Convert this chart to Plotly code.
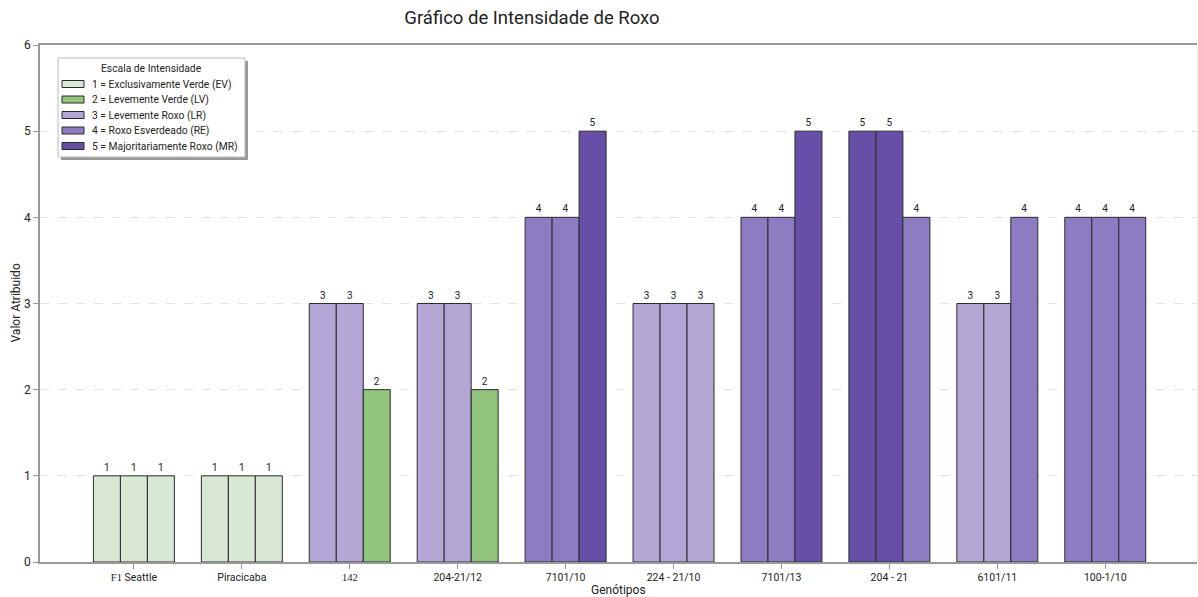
import plotly.graph_objects as go

categories = ["<span style='font-family:Liberation Serif'>F1</span> Seattle", "Piracicaba",
              "<span style='font-family:Liberation Serif'>142</span>", "204-21/12", "7101/10",
              "224 - 21/10", "7101/13", "204 - 21", "6101/11", "100-1/10"]
serie_a = [1, 1, 3, 3, 4, 3, 4, 5, 3, 4]
serie_b = [1, 1, 3, 3, 4, 3, 4, 5, 3, 4]
serie_c = [1, 1, 2, 2, 5, 3, 5, 4, 4, 4]
scale_labels = ["1 = Exclusivamente Verde (EV)", "2 = Levemente Verde (LV)",
                "3 = Levemente Roxo (LR)", "4 = Roxo Esverdeado (RE)",
                "5 = Majoritariamente Roxo (MR)"]
scale_colors = ["#d9e8d4", "#93c47d", "#b4a7d6", "#8e7cc3", "#674ea7"]

FONT = "Roboto, Inter, sans-serif"
W, H = 1198, 597
L, R, T, B = 40, 1, 45, 35
PW, PH = W - L - R, H - T - B


def px_x(px):
    return (px - L) / PW


def px_y(py):
    return (H - B - py) / PH


fig = go.Figure()
offsets = [-0.375, -0.125, 0.125]
for vals, off in zip([serie_a, serie_b, serie_c], offsets):
    fig.add_trace(go.Bar(
        x=categories, y=vals, offset=off, width=0.25,
        marker=dict(color=[scale_colors[v - 1] for v in vals],
                    line=dict(color="#2b2b2b", width=1)),
        text=[str(v) for v in vals], textposition="outside",
        outsidetextfont=dict(size=10, color="#222222", family=FONT),
        cliponaxis=False, showlegend=False, hoverinfo="x+y"))

# manual legend (compact, like the reference)
shapes = [
    dict(type="line", xref="paper", yref="paper", x0=1, x1=1, y0=0, y1=1,
         line=dict(color="#eeeeee", width=1)),
    dict(type="rect", xref="paper", yref="paper", layer="above",
         x0=px_x(61), x1=px_x(248), y0=px_y(160), y1=px_y(61),
         fillcolor="#9a9a9a", line=dict(width=0)),
    dict(type="rect", xref="paper", yref="paper", layer="above",
         x0=px_x(58), x1=px_x(245), y0=px_y(157), y1=px_y(58),
         fillcolor="white", line=dict(color="#bbbbbb", width=1)),
]
annotations = [
    dict(text="Escala de Intensidade", xref="paper", yref="paper",
         x=px_x(151), y=px_y(68), xanchor="center", yanchor="middle",
         showarrow=False, font=dict(size=10.3, color="#222")),
]
row_y = [84, 99.5, 115, 130.5, 146]
for lab, col, ry in zip(scale_labels, scale_colors, row_y):
    shapes.append(dict(type="rect", xref="paper", yref="paper", layer="above",
                       x0=px_x(62), x1=px_x(84), y0=px_y(ry + 3.5), y1=px_y(ry - 3.5),
                       fillcolor=col, line=dict(color="#2b2b2b", width=1)))
    annotations.append(dict(text=lab, xref="paper", yref="paper",
                            x=px_x(90), y=px_y(ry), xanchor="left", yanchor="middle",
                            showarrow=False, font=dict(size=10.3, color="#222")))

annotations += [
    dict(text="Genótipos", xref="paper", yref="paper", x=0.5, y=px_y(590),
         xanchor="center", yanchor="middle", showarrow=False,
         font=dict(size=12, color="#222")),
    dict(text="Valor Atribuido", xref="paper", yref="paper", x=px_x(15), y=0.5,
         xanchor="center", yanchor="middle", textangle=-90, showarrow=False,
         font=dict(size=12, color="#222")),
]

fig.update_layout(
    width=W, height=H, barmode="overlay",
    paper_bgcolor="white", plot_bgcolor="white",
    margin=dict(l=L, r=R, t=T, b=B, autoexpand=False),
    font=dict(family=FONT, size=11, color="#222"),
    showlegend=False,
    title=dict(text="Gráfico de Intensidade de Roxo", x=532 / W, xanchor="center",
               y=1 - 18 / H, yanchor="middle", font=dict(size=18.5, color="#222")),
    xaxis=dict(range=[-0.87, 9.85], showline=True, linecolor="#999", linewidth=1.5,
               mirror=True, ticks="outside", ticklen=5, tickcolor="#999",
               showgrid=False, automargin=False, tickfont=dict(size=10.5)),
    yaxis=dict(range=[0, 6], dtick=1, showline=True, linecolor="#999", linewidth=1.5,
               ticks="outside", ticklen=5, tickcolor="#999", zeroline=False,
               showgrid=True, gridcolor="#e3e3e3", griddash="dash",
               automargin=False, tickfont=dict(size=12)),
    shapes=shapes, annotations=annotations,
)

fig.write_html("out.html", config={"displayModeBar": False},
               post_script="document.body.style.margin='0px';"
                           "document.body.style.overflow='hidden';")
